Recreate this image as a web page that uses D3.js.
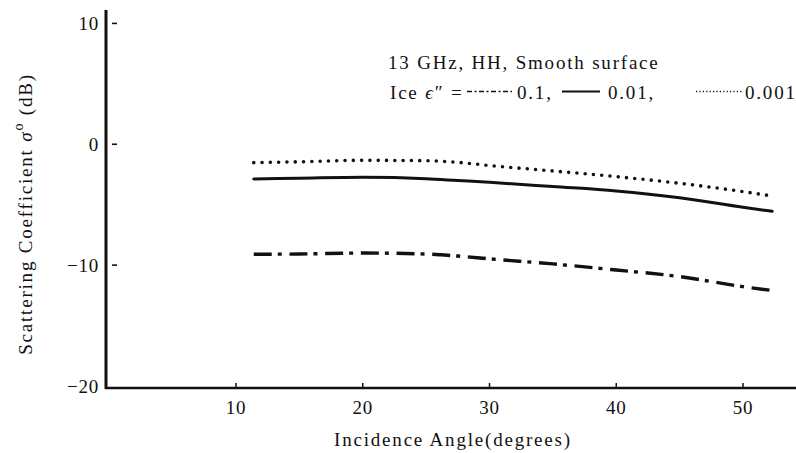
<!DOCTYPE html>
<html><head><meta charset="utf-8">
<script src="https://cdn.jsdelivr.net/npm/d3@7"></script>
<style>
body{margin:0;background:#fff}
text{font-family:"Liberation Serif","Times New Roman",serif;fill:#111}
.wide{letter-spacing:1.8px}
</style>
</head><body>
<svg id="c" width="796" height="453"></svg>
<script>
// ---- data ----
const angles    = [11.4, 15, 20, 25, 27.5, 30, 35, 40, 45, 50, 52.3];
const eps01     = [-9.1, -9.08, -9.0, -9.08, -9.25, -9.48, -9.9, -10.4, -10.95, -11.78, -12.1];
const eps001    = [-2.87, -2.81, -2.73, -2.85, -3.0, -3.15, -3.5, -3.86, -4.42, -5.21, -5.55];
const eps0001   = [-1.52, -1.45, -1.33, -1.36, -1.5, -1.76, -2.21, -2.68, -3.23, -3.92, -4.28];
const xTicks    = [10, 20, 30, 40, 50];
const yTicks    = [10, 0, -10, -20];
const seriesNames = ["0.1", "0.01", "0.001"];

const svg = d3.select("#c");
const x = d3.scaleLinear().domain([0, 55]).range([109.25, 806.4]);
const y = d3.scaleLinear().domain([-20, 10]).range([386, 23.4]);

// axes lines
svg.append("line").attr("x1", 106).attr("x2", 106).attr("y1", 10).attr("y2", 389)
  .attr("stroke", "#111").attr("stroke-width", 3);
svg.append("line").attr("x1", 105).attr("x2", 796).attr("y1", 388).attr("y2", 388)
  .attr("stroke", "#111").attr("stroke-width", 2.5);

// x ticks (inward, small)
svg.selectAll(".xt").data(xTicks).enter().append("line")
  .attr("x1", d => x(d)).attr("x2", d => x(d)).attr("y1", 388).attr("y2", 383)
  .attr("stroke", "#111").attr("stroke-width", 1.5);
svg.selectAll(".xl").data(xTicks).enter().append("text")
  .attr("x", d => x(d)).attr("y", 414).attr("text-anchor", "middle")
  .attr("font-size", 19).attr("letter-spacing", 0.8).text(d => d);

// y ticks (small dashes right of axis)
svg.selectAll(".yt").data(yTicks.filter(d => d > -20)).enter().append("line")
  .attr("x1", 112).attr("x2", 117).attr("y1", d => y(d)).attr("y2", d => y(d))
  .attr("stroke", "#111").attr("stroke-width", 1.6);
svg.selectAll(".yl").data(yTicks).enter().append("text")
  .attr("x", 99).attr("y", d => y(d) + 6.5).attr("text-anchor", "end")
  .attr("font-size", 19).attr("letter-spacing", 0.8).text(d => d < 0 ? "\u2212" + Math.abs(d) : d);

// axis titles
svg.append("text").attr("class", "wide").attr("x", 453).attr("y", 446).attr("text-anchor", "middle")
  .attr("font-size", 19).text("Incidence Angle(degrees)");
const yl = svg.append("text").attr("class", "wide").attr("transform", "translate(32,214) rotate(-90)")
  .attr("text-anchor", "middle").attr("font-size", 19);
yl.append("tspan").text("Scattering Coefficient ");
yl.append("tspan").attr("font-style", "italic").text("\u03C3");
yl.append("tspan").attr("font-size", 14).attr("dy", -9).text("o");
yl.append("tspan").attr("dy", 9).text(" (dB)");

// curves
const line = d3.line().x(d => x(d[0])).y(d => y(d[1])).curve(d3.curveMonotoneX);
const styles = [
  {vals: eps01,   w: 3.4, dash: "18,6,4,7.7", cap: "butt"},
  {vals: eps001,  w: 3,   dash: null,          cap: "round"},
  {vals: eps0001, w: 3.6, dash: "0,8.3",       cap: "round"}
];
styles.forEach(s => {
  svg.append("path").datum(angles.map((a, i) => [a, s.vals[i]]))
    .attr("d", line).attr("fill", "none").attr("stroke", "#111")
    .attr("stroke-width", s.w).attr("stroke-linecap", s.cap)
    .attr("stroke-dasharray", s.dash);
});

// legend
svg.append("text").attr("class", "wide").attr("x", 388).attr("y", 69).attr("font-size", 19)
  .text("13 GHz, HH, Smooth surface");
const l2 = svg.append("text").attr("class", "wide").attr("x", 390).attr("y", 99).attr("font-size", 19);
l2.append("tspan").text("Ice ");
l2.append("tspan").attr("font-style", "italic").text("\u03F5");
l2.append("tspan").text("\u2033 =");
const legendSamples = [
  {x1: 467, x2: 512, w: 1.4, dash: "5,2.5,2,2.5", cap: "butt", label: seriesNames[0] + ",", lx: 517},
  {x1: 562, x2: 600, w: 2,   dash: null,          cap: "butt", label: seriesNames[1] + ",", lx: 608},
  {x1: 696, x2: 743, w: 1.4, dash: "1.2,2.2",     cap: "butt", label: seriesNames[2],       lx: 745}
];
legendSamples.forEach(s => {
  svg.append("line").attr("x1", s.x1).attr("x2", s.x2).attr("y1", 91.5).attr("y2", 91.5)
    .attr("stroke", "#111").attr("stroke-width", s.w).attr("stroke-dasharray", s.dash)
    .attr("stroke-linecap", s.cap);
  svg.append("text").attr("class", "wide").attr("x", s.lx).attr("y", 99).attr("font-size", 19).text(s.label);
});
</script>
</body></html>
